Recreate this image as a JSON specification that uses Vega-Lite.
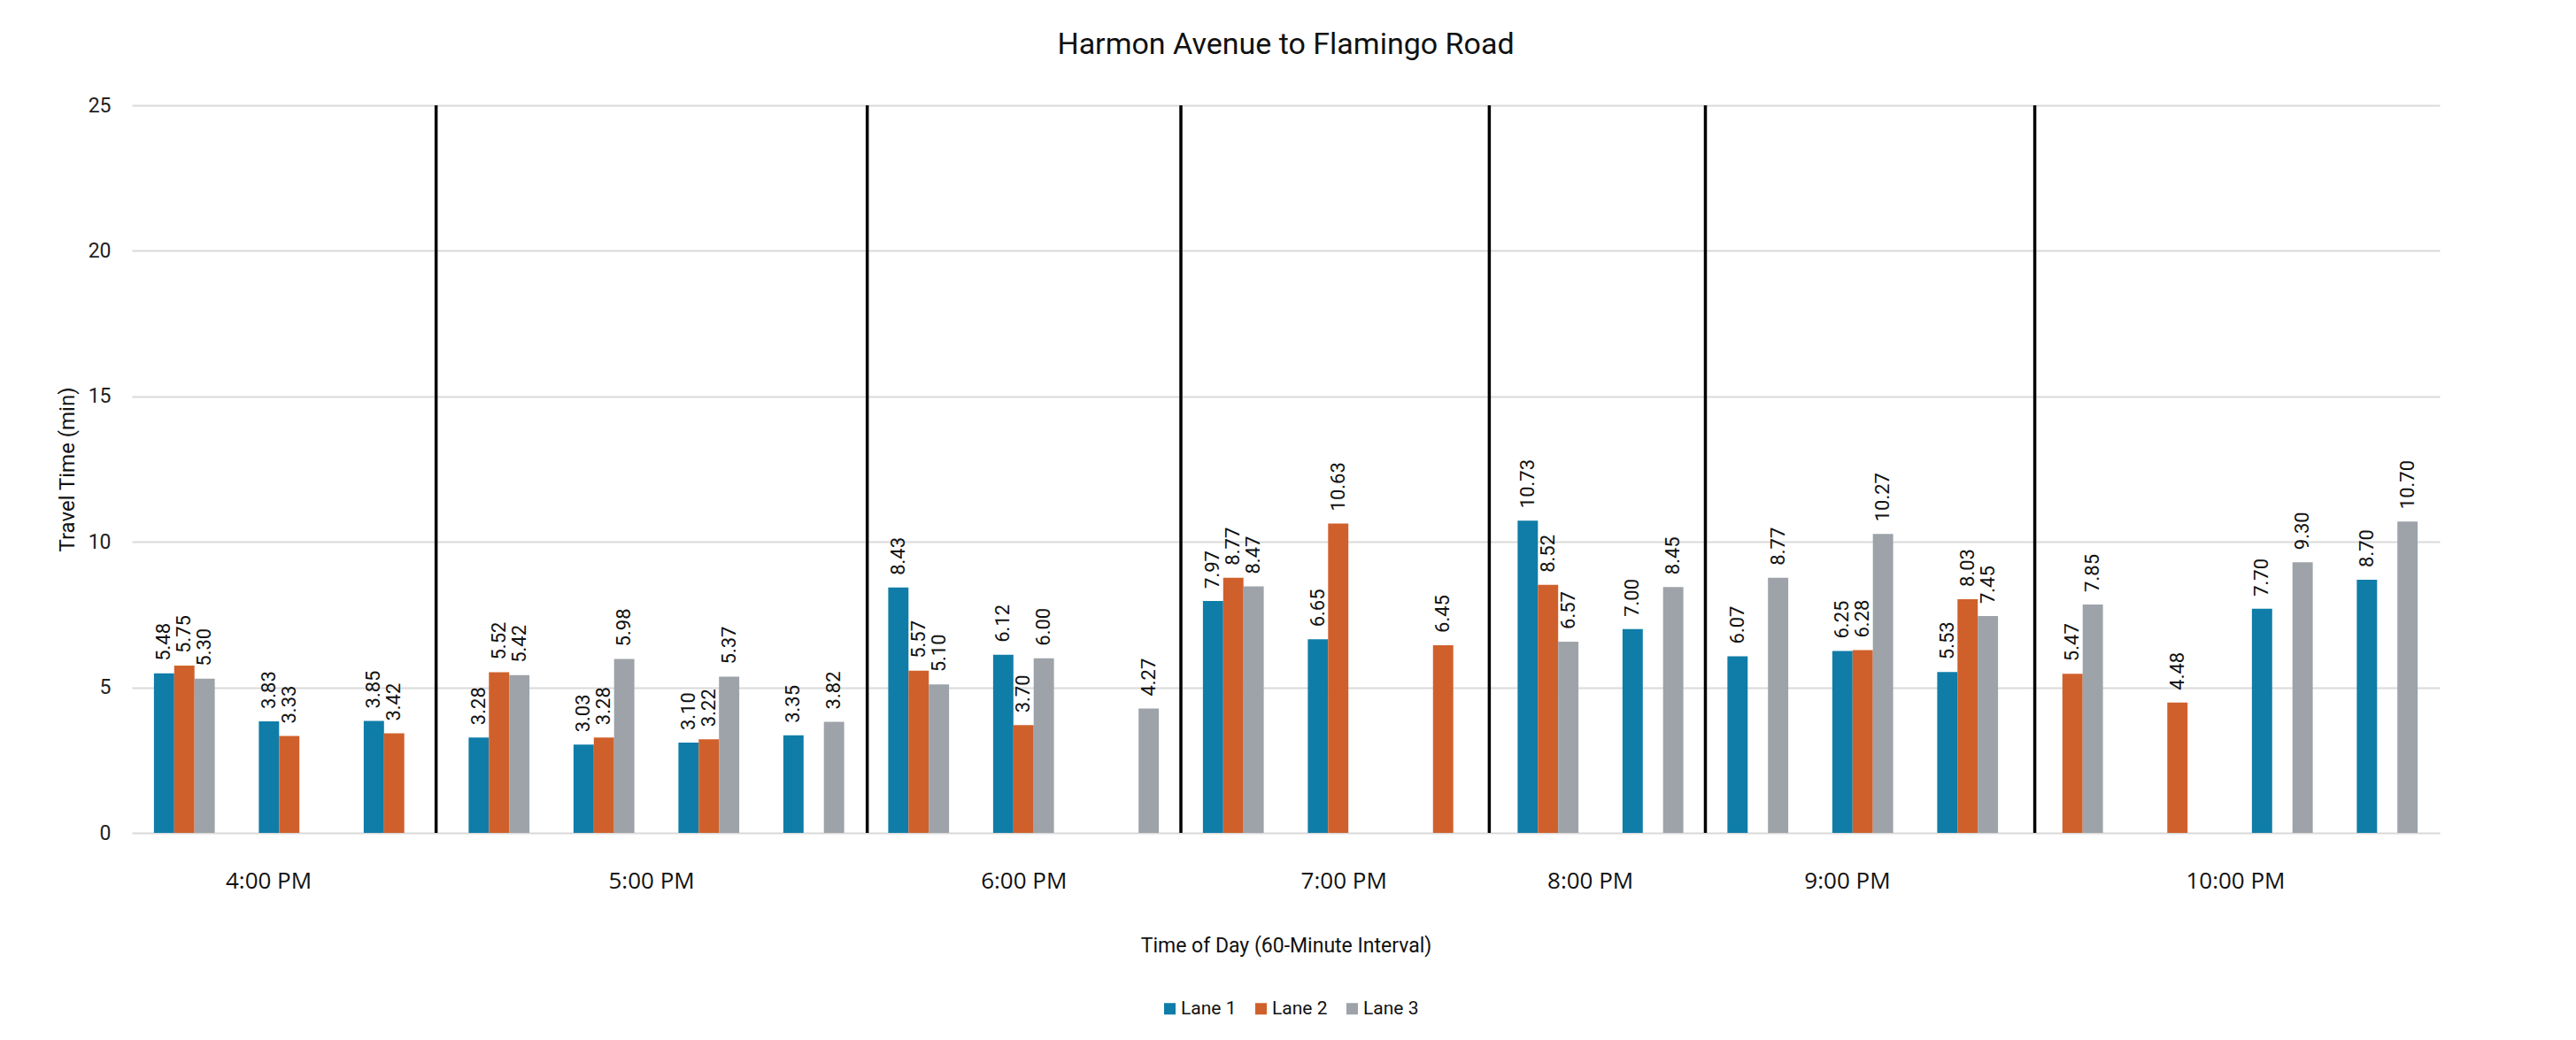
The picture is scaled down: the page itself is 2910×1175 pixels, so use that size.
{
  "$schema": "https://vega.github.io/schema/vega-lite/v6.json",
  "autosize": "none",
  "width": 2607,
  "height": 822,
  "padding": {"left": 149, "top": 119, "right": 154, "bottom": 234},
  "background": "white",
  "config": {
    "view": {"stroke": null},
    "font": "Roboto"
  },
  "title": {
    "text": "Harmon Avenue to Flamingo Road",
    "font": "Roboto",
    "fontSize": 34,
    "fontWeight": "normal",
    "color": "#111111",
    "anchor": "middle",
    "offset": 40
  },
  "datasets": {
    "bars": [
      {"slot": 1, "hour": "4:00 PM", "lane": "Lane 1", "value": 5.48},
      {"slot": 1, "hour": "4:00 PM", "lane": "Lane 2", "value": 5.75},
      {"slot": 1, "hour": "4:00 PM", "lane": "Lane 3", "value": 5.30},
      {"slot": 2, "hour": "4:00 PM", "lane": "Lane 1", "value": 3.83},
      {"slot": 2, "hour": "4:00 PM", "lane": "Lane 2", "value": 3.33},
      {"slot": 3, "hour": "4:00 PM", "lane": "Lane 1", "value": 3.85},
      {"slot": 3, "hour": "4:00 PM", "lane": "Lane 2", "value": 3.42},
      {"slot": 4, "hour": "5:00 PM", "lane": "Lane 1", "value": 3.28},
      {"slot": 4, "hour": "5:00 PM", "lane": "Lane 2", "value": 5.52},
      {"slot": 4, "hour": "5:00 PM", "lane": "Lane 3", "value": 5.42},
      {"slot": 5, "hour": "5:00 PM", "lane": "Lane 1", "value": 3.03},
      {"slot": 5, "hour": "5:00 PM", "lane": "Lane 2", "value": 3.28},
      {"slot": 5, "hour": "5:00 PM", "lane": "Lane 3", "value": 5.98},
      {"slot": 6, "hour": "5:00 PM", "lane": "Lane 1", "value": 3.10},
      {"slot": 6, "hour": "5:00 PM", "lane": "Lane 2", "value": 3.22},
      {"slot": 6, "hour": "5:00 PM", "lane": "Lane 3", "value": 5.37},
      {"slot": 7, "hour": "5:00 PM", "lane": "Lane 1", "value": 3.35},
      {"slot": 7, "hour": "5:00 PM", "lane": "Lane 3", "value": 3.82},
      {"slot": 8, "hour": "6:00 PM", "lane": "Lane 1", "value": 8.43},
      {"slot": 8, "hour": "6:00 PM", "lane": "Lane 2", "value": 5.57},
      {"slot": 8, "hour": "6:00 PM", "lane": "Lane 3", "value": 5.10},
      {"slot": 9, "hour": "6:00 PM", "lane": "Lane 1", "value": 6.12},
      {"slot": 9, "hour": "6:00 PM", "lane": "Lane 2", "value": 3.70},
      {"slot": 9, "hour": "6:00 PM", "lane": "Lane 3", "value": 6.00},
      {"slot": 10, "hour": "6:00 PM", "lane": "Lane 3", "value": 4.27},
      {"slot": 11, "hour": "7:00 PM", "lane": "Lane 1", "value": 7.97},
      {"slot": 11, "hour": "7:00 PM", "lane": "Lane 2", "value": 8.77},
      {"slot": 11, "hour": "7:00 PM", "lane": "Lane 3", "value": 8.47},
      {"slot": 12, "hour": "7:00 PM", "lane": "Lane 1", "value": 6.65},
      {"slot": 12, "hour": "7:00 PM", "lane": "Lane 2", "value": 10.63},
      {"slot": 13, "hour": "7:00 PM", "lane": "Lane 2", "value": 6.45},
      {"slot": 14, "hour": "8:00 PM", "lane": "Lane 1", "value": 10.73},
      {"slot": 14, "hour": "8:00 PM", "lane": "Lane 2", "value": 8.52},
      {"slot": 14, "hour": "8:00 PM", "lane": "Lane 3", "value": 6.57},
      {"slot": 15, "hour": "8:00 PM", "lane": "Lane 1", "value": 7.00},
      {"slot": 15, "hour": "8:00 PM", "lane": "Lane 3", "value": 8.45},
      {"slot": 16, "hour": "9:00 PM", "lane": "Lane 1", "value": 6.07},
      {"slot": 16, "hour": "9:00 PM", "lane": "Lane 3", "value": 8.77},
      {"slot": 17, "hour": "9:00 PM", "lane": "Lane 1", "value": 6.25},
      {"slot": 17, "hour": "9:00 PM", "lane": "Lane 2", "value": 6.28},
      {"slot": 17, "hour": "9:00 PM", "lane": "Lane 3", "value": 10.27},
      {"slot": 18, "hour": "9:00 PM", "lane": "Lane 1", "value": 5.53},
      {"slot": 18, "hour": "9:00 PM", "lane": "Lane 2", "value": 8.03},
      {"slot": 18, "hour": "9:00 PM", "lane": "Lane 3", "value": 7.45},
      {"slot": 19, "hour": "10:00 PM", "lane": "Lane 2", "value": 5.47},
      {"slot": 19, "hour": "10:00 PM", "lane": "Lane 3", "value": 7.85},
      {"slot": 20, "hour": "10:00 PM", "lane": "Lane 2", "value": 4.48},
      {"slot": 21, "hour": "10:00 PM", "lane": "Lane 1", "value": 7.70},
      {"slot": 21, "hour": "10:00 PM", "lane": "Lane 3", "value": 9.30},
      {"slot": 22, "hour": "10:00 PM", "lane": "Lane 1", "value": 8.70},
      {"slot": 22, "hour": "10:00 PM", "lane": "Lane 3", "value": 10.70}
    ],
    "separators": [
      {"pos": 2.9},
      {"pos": 7.01},
      {"pos": 10.0},
      {"pos": 12.94},
      {"pos": 15.0},
      {"pos": 18.14}
    ]
  },
  "resolve": {"scale": {"x": "independent"}, "axis": {"x": "independent"}},
  "layer": [
    {
      "data": {"name": "bars"},
      "mark": {"type": "bar"},
      "encoding": {
        "x": {
          "field": "slot", "type": "ordinal",
          "scale": {"domain": [1,2,3,4,5,6,7,8,9,10,11,12,13,14,15,16,17,18,19,20,21,22], "paddingInner": 0.42, "paddingOuter": 0.21},
          "axis": null
        },
        "xOffset": {
          "field": "lane", "type": "nominal",
          "scale": {"domain": ["Lane 1", "Lane 2", "Lane 3"], "paddingInner": 0, "paddingOuter": 0}
        },
        "y": {
          "field": "value", "type": "quantitative",
          "scale": {"domain": [0, 25], "nice": false},
          "axis": {
            "values": [0, 5, 10, 15, 20, 25],
            "title": "Travel Time (min)",
            "titleFont": "Roboto",
            "titleFontSize": 24,
            "titleFontWeight": "normal",
            "titleColor": "#111111",
            "titlePadding": 11,
            "labelFont": "Roboto",
            "labelFontSize": 23,
            "labelColor": "#222222",
            "labelPadding": 24,
            "domain": false,
            "ticks": false,
            "grid": true,
            "gridColor": "#d9d9d9",
            "gridWidth": 2
          }
        },
        "color": {
          "field": "lane", "type": "nominal",
          "scale": {"domain": ["Lane 1", "Lane 2", "Lane 3"], "range": ["#0F7DA8", "#D0602B", "#9DA3A9"]},
          "legend": {
            "orient": "none",
            "legendX": 1162,
            "legendY": 1010,
            "direction": "horizontal",
            "title": null,
            "symbolType": "square",
            "symbolSize": 169,
            "symbolStrokeWidth": 0,
            "labelFont": "Roboto",
            "labelFontSize": 21,
            "labelColor": "#111111",
            "labelOffset": 2,
            "columnPadding": 17
          }
        }
      }
    },
    {
      "data": {"name": "bars"},
      "mark": {"type": "text", "angle": 270, "align": "left", "baseline": "middle", "dx": 14, "font": "Roboto", "fontSize": 22, "color": "#111111"},
      "encoding": {
        "x": {
          "field": "slot", "type": "ordinal",
          "scale": {"domain": [1,2,3,4,5,6,7,8,9,10,11,12,13,14,15,16,17,18,19,20,21,22], "paddingInner": 0.42, "paddingOuter": 0.21},
          "axis": null
        },
        "xOffset": {
          "field": "lane", "type": "nominal",
          "scale": {"domain": ["Lane 1", "Lane 2", "Lane 3"], "paddingInner": 0, "paddingOuter": 0}
        },
        "y": {"field": "value", "type": "quantitative", "scale": {"domain": [0, 25], "nice": false}},
        "text": {"field": "value", "type": "quantitative", "format": ".2f"}
      }
    },
    {
      "data": {"name": "separators"},
      "mark": {"type": "rule", "color": "#000000", "strokeWidth": 3.5},
      "encoding": {
        "x": {
          "field": "pos", "type": "quantitative",
          "scale": {"domain": [0, 22], "nice": false, "zero": false},
          "axis": {
            "values": [1.3, 4.95, 8.5, 11.55, 13.9, 16.35, 20.05],
            "labelExpr": "datum.value < 3 ? '4:00 PM' : datum.value < 7 ? '5:00 PM' : datum.value < 10 ? '6:00 PM' : datum.value < 13 ? '7:00 PM' : datum.value < 15 ? '8:00 PM' : datum.value < 18 ? '9:00 PM' : '10:00 PM'",
            "labelFont": "Open Sans",
            "labelFontSize": 26,
            "labelColor": "#111111",
            "labelPadding": 41,
            "labelFlush": false,
            "labelOverlap": false,
            "domain": false,
            "ticks": false,
            "grid": false,
            "title": "Time of Day (60-Minute Interval)",
            "titleFont": "Roboto",
            "titleFontSize": 23,
            "titleFontWeight": "normal",
            "titleColor": "#111111",
            "titlePadding": 49
          }
        }
      }
    }
  ]
}
